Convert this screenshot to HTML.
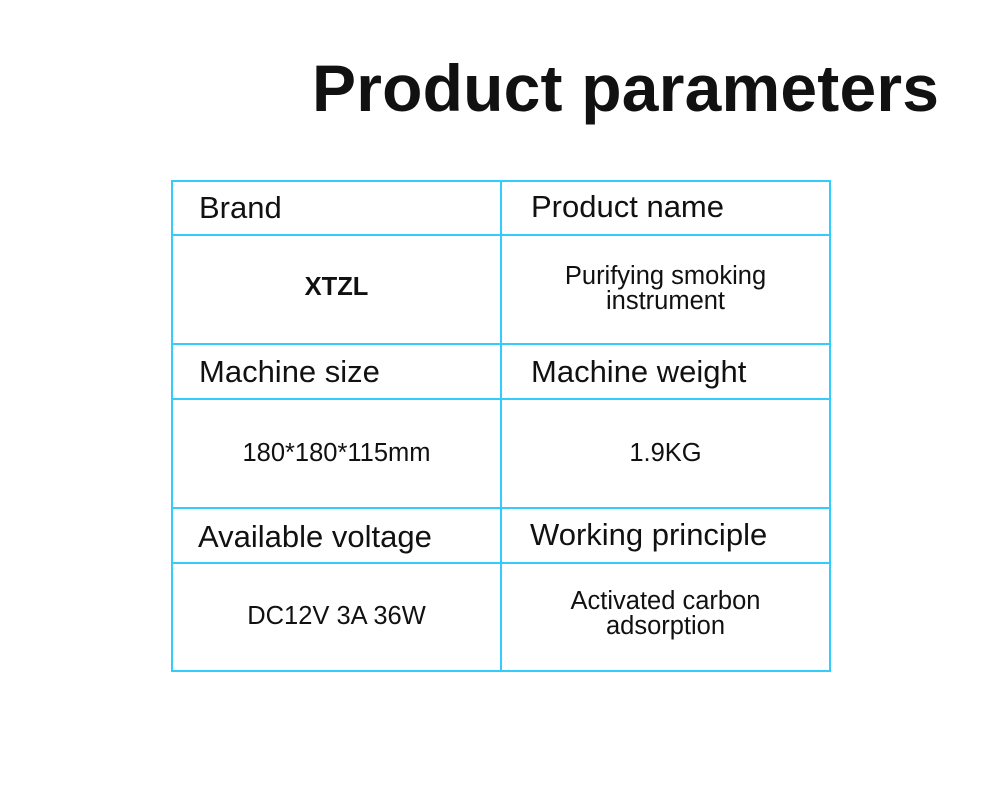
<!DOCTYPE html>
<html><head><style>
body{margin:0;background:#fff;width:1000px;height:792px;position:relative;overflow:hidden;font-family:"Liberation Sans",sans-serif;color:#111}
.t{position:absolute;white-space:nowrap}
.h{font-size:31px}
.c{font-size:25.5px;text-align:center;line-height:25px}
.l{position:absolute;background:#33ccff}
</style></head><body>
<div class="t" style="left:312px;top:50px;font-size:66px;font-weight:bold;letter-spacing:0.2px">Product parameters</div>
<div class="l" style="left:171px;top:180px;width:660px;height:2px"></div>
<div class="l" style="left:171px;top:234px;width:660px;height:2px"></div>
<div class="l" style="left:171px;top:343px;width:660px;height:2px"></div>
<div class="l" style="left:171px;top:398px;width:660px;height:2px"></div>
<div class="l" style="left:171px;top:507px;width:660px;height:2px"></div>
<div class="l" style="left:171px;top:562px;width:660px;height:2px"></div>
<div class="l" style="left:171px;top:670px;width:660px;height:2px"></div>
<div class="l" style="left:171px;top:180px;width:2px;height:492px"></div>
<div class="l" style="left:500px;top:180px;width:2px;height:492px"></div>
<div class="l" style="left:829px;top:180px;width:2px;height:492px"></div>
<div class="t h" style="left:199px;top:190px">Brand</div>
<div class="t h" style="left:531px;top:189px">Product name</div>
<div class="t h" style="left:199px;top:354px">Machine size</div>
<div class="t h" style="left:531px;top:354px">Machine weight</div>
<div class="t h" style="left:198px;top:519px">Available voltage</div>
<div class="t h" style="left:530px;top:517px">Working principle</div>
<div class="t c" style="left:173px;width:327px;top:275px;font-weight:bold">XTZL</div>
<div class="t c" style="left:502px;width:327px;top:264px">Purifying smoking<br>instrument</div>
<div class="t c" style="left:173px;width:327px;top:441px">180*180*115mm</div>
<div class="t c" style="left:502px;width:327px;top:441px">1.9KG</div>
<div class="t c" style="left:173px;width:327px;top:604px">DC12V 3A 36W</div>
<div class="t c" style="left:502px;width:327px;top:589px">Activated carbon<br>adsorption</div>
</body></html>
